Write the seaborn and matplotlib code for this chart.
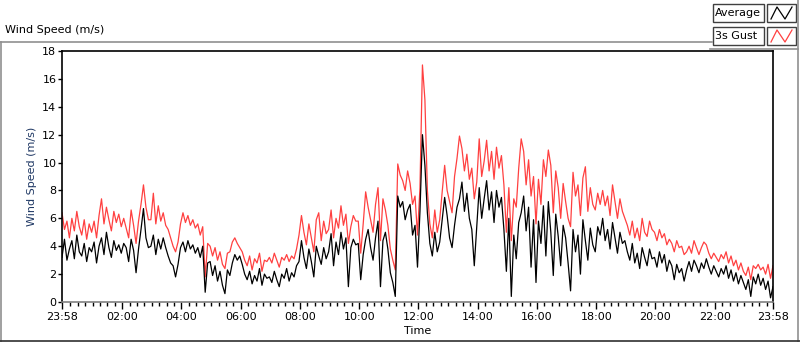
import numpy as np
import pandas as pd
import matplotlib
matplotlib.use("Agg")
import matplotlib.pyplot as plt
from matplotlib.patches import Rectangle
from matplotlib.lines import Line2D
import seaborn as sns

# Wind speed (m/s), one value every 5 minutes from 23:58 to 23:58 (one row per hour)
avg_speed = [
    3.2, 4.5, 3.0, 3.8, 4.4, 3.1, 4.8, 3.6, 3.3, 4.2, 2.9, 3.9,
    3.6, 4.3, 2.8, 4.0, 4.6, 3.4, 5.0, 3.9, 3.2, 4.4, 3.7, 4.1,
    3.5, 4.2, 3.9, 2.9, 4.5, 3.7, 2.1, 3.8, 5.2, 6.7, 4.6, 3.9,
    4.0, 4.8, 3.4, 4.5, 3.8, 4.6, 3.9, 3.3, 2.8, 2.6, 1.8, 2.7,
    3.9, 4.3, 3.6, 4.4, 3.8, 4.1, 3.5, 3.9, 3.2, 4.0, 0.7, 2.8,
    2.9, 1.9, 2.6, 1.5, 2.2, 1.2, 0.6, 2.3, 1.9, 2.8, 3.4, 3.0,
    3.3, 2.7, 2.0, 1.6, 2.2, 1.3, 1.9, 1.5, 2.4, 1.2, 2.0, 1.7,
    1.8, 1.4, 2.2, 1.6, 1.1, 2.0, 1.7, 2.4, 1.5, 2.1, 1.8, 2.6,
    2.9, 4.4, 3.2, 2.4, 3.8, 2.9, 1.8, 4.0, 3.3, 2.7, 3.9, 3.1,
    3.6, 4.9, 2.6, 4.3, 3.4, 5.0, 3.8, 4.6, 1.1, 3.9, 4.5, 4.1,
    4.2, 1.6, 3.4, 4.5, 5.2, 3.9, 3.0, 4.6, 5.8, 1.1, 4.4, 5.0,
    3.8, 2.1, 1.4, 0.4, 7.6, 6.8, 7.2, 5.9, 6.6, 7.0, 4.8, 5.5,
    2.5, 6.5, 12.0, 9.8, 6.4, 4.2, 3.3, 5.0, 3.6, 4.3, 5.9, 7.5,
    6.2, 4.6, 3.9, 5.5, 6.8, 7.4, 8.6, 6.5, 7.8, 6.0, 5.2, 2.6,
    5.4, 8.2, 6.0, 7.4, 8.7, 6.6, 7.9, 5.7, 8.0, 6.8, 7.5, 5.2,
    2.2, 6.0, 0.4, 4.8, 3.1, 5.7, 6.4, 7.6, 5.1, 6.8, 2.5, 5.9,
    1.4, 5.8, 4.2, 6.9, 3.3, 7.2, 5.0, 1.9, 6.3, 4.7, 2.6, 5.5,
    4.6, 2.8, 0.8, 5.2, 3.6, 4.8, 2.0, 5.9, 4.4, 3.0, 5.3, 4.1,
    3.6, 5.4, 4.8, 6.0, 4.4, 5.2, 3.8, 5.7, 4.6, 3.5, 5.0, 4.2,
    4.4, 3.6, 3.0, 4.2, 2.8, 3.5, 2.4, 3.9, 3.2, 2.6, 3.8, 3.1,
    3.2, 2.5, 3.6, 2.8, 3.4, 2.2, 3.0, 2.6, 1.6, 2.7, 2.1, 2.4,
    1.5, 2.3, 2.9, 2.2, 3.0, 2.6, 2.1, 2.8, 2.4, 3.1, 2.5, 2.0,
    2.6, 2.2, 1.8, 2.4, 2.0, 2.6, 1.7, 2.3, 1.5, 2.1, 1.3, 1.9,
    1.4, 0.9, 1.6, 0.4, 1.8, 1.3, 2.0, 1.2, 1.7, 0.9, 1.5, 0.3,
    1.1,
]

gust_speed = [
    6.4, 5.2, 5.8, 4.6, 6.0, 5.1, 6.5, 5.4, 4.8, 5.9, 4.5, 5.6,
    5.0, 5.8, 4.6, 6.2, 7.4, 5.6, 6.8, 5.9, 5.1, 6.5, 5.7, 6.3,
    5.4, 6.0, 5.3, 4.6, 6.6, 5.5, 4.2, 5.8, 7.0, 8.4, 6.8, 5.9,
    5.9, 7.8, 5.6, 6.9, 5.8, 6.4, 5.5, 5.2, 4.6, 4.0, 3.6, 4.3,
    5.6, 6.4, 5.7, 6.2, 5.5, 5.9, 5.3, 5.6, 4.8, 5.4, 1.8, 4.2,
    4.0, 3.3, 3.9, 3.0, 3.6, 2.7, 2.4, 3.5, 3.6, 4.3, 4.6, 4.2,
    3.9, 3.6, 3.0, 2.6, 3.3, 2.3, 3.1, 2.8, 3.5, 2.2, 3.0, 2.9,
    3.2, 2.8, 3.5, 3.0, 2.5, 3.2, 3.0, 3.4, 2.9, 3.3, 3.1, 3.8,
    4.8, 6.2, 5.0, 4.1, 5.6, 4.6, 3.6, 5.9, 6.4, 4.4, 5.8, 4.9,
    5.2, 6.6, 4.6, 6.0, 5.3, 6.9, 5.5, 6.3, 4.2, 5.4, 6.2, 5.8,
    5.8, 3.5, 5.6, 7.9, 6.8, 5.9, 5.0, 7.0, 8.2, 4.4, 7.4, 6.6,
    5.5, 3.8, 3.0, 2.3, 9.9, 9.1, 8.7, 8.0, 9.4, 8.5, 7.0, 7.6,
    4.8, 8.2, 17.0, 14.5, 8.0, 5.6, 4.6, 6.6, 5.0, 5.9, 7.9, 9.8,
    8.0, 7.2, 6.4, 9.0, 10.3, 11.9, 11.0, 9.4, 10.6, 8.8, 9.6, 7.4,
    8.6, 11.7, 9.0, 10.1, 11.6, 9.4, 10.8, 8.8, 11.1, 9.6, 10.5, 8.4,
    5.0, 8.2, 4.4, 7.4, 6.8, 9.6, 11.7, 10.8, 8.4, 10.2, 7.6, 9.0,
    5.6, 8.8, 7.0, 10.2, 9.0, 10.9, 9.8, 6.4, 9.4, 8.2, 6.0, 8.5,
    7.2, 6.0, 5.4, 9.3, 7.6, 8.4, 6.2, 8.9, 9.7, 6.5, 8.2, 7.0,
    6.6, 7.8, 7.0, 8.0, 6.9, 7.6, 6.2, 8.4, 7.2, 6.0, 7.4, 6.5,
    6.0, 5.5, 4.8, 5.8, 4.6, 5.3, 4.4, 6.0, 5.0, 4.7, 5.8, 5.2,
    5.0, 4.4, 5.2, 4.6, 4.9, 4.1, 4.5, 4.2, 3.6, 4.4, 3.9, 4.0,
    3.4, 3.6, 4.0, 3.5, 4.4, 3.9, 3.4, 3.9, 4.3, 4.1, 3.5, 3.1,
    3.5, 3.2, 2.9, 3.4, 3.1, 3.6, 2.8, 3.3, 2.6, 3.0, 2.3, 2.8,
    2.2, 1.9, 2.5, 1.6, 2.6, 2.4, 2.7, 2.3, 2.5, 2.0, 2.7, 1.7,
    2.6,
]

tick_labels = ["23:58", "02:00", "04:00", "06:00", "08:00", "10:00", "12:00",
               "14:00", "16:00", "18:00", "20:00", "22:00", "23:58"]

step = 5
minutes = np.arange(len(avg_speed)) * step
df = pd.DataFrame({"minute": minutes, "avg": avg_speed, "gust": gust_speed})

W, H = 800, 342
fig = plt.figure(figsize=(W / 100, H / 100), dpi=100)
plt.rcParams["font.family"] = ["DejaVu Sans"]


def fx(x):
    return x / W


def fy(y):
    return 1 - y / H


ax = fig.add_axes([fx(62), fy(302), (773 - 62) / W, (302 - 51) / H])
sns.lineplot(data=df, x="minute", y="gust", color="#ff4040", linewidth=0.9, ax=ax)
sns.lineplot(data=df, x="minute", y="avg", color="black", linewidth=0.9, ax=ax)

ax.set_xlim(0, 1440)
ax.set_ylim(0, 18)
ax.set_yticks(np.arange(0, 19, 2))

# tick positions in minutes after 23:58
start = 23 * 60 + 58
pos = [((int(t[:2]) * 60 + int(t[3:])) - start) % 1440 for t in tick_labels]
pos[-1] = 1440
ax.set_xticks(pos)
ax.set_xticklabels(tick_labels)
minor = [m for m in range(17, 1440, 15) if m not in pos]
ax.set_xticks(minor, minor=True)

ax.tick_params(axis="x", which="major", length=5, width=1, labelsize=8, pad=2)
ax.tick_params(axis="x", which="minor", length=3, width=1)
ax.tick_params(axis="y", length=3, width=1, labelsize=8, pad=1)
ax.set_xlabel("Time", fontsize=8, labelpad=3)
ax.set_ylabel("Wind Speed (m/s)", fontsize=8, color="#1f3864", labelpad=4)

for s in ax.spines.values():
    s.set_color("black")
    s.set_linewidth(1.2)
ax.spines["bottom"].set_color("#808080")
ax.grid(False)

# chart frame and title
fig.add_artist(Line2D([fx(0), fx(712)], [fy(42), fy(42)], color="#909090", lw=1.2))
fig.add_artist(Line2D([fx(0.5), fx(0.5)], [fy(42), fy(342)], color="#909090", lw=1.2))
fig.add_artist(Line2D([fx(798), fx(798)], [fy(0), fy(342)], color="#909090", lw=1.2))
fig.add_artist(Line2D([fx(0), fx(800)], [fy(341), fy(341)], color="#303030", lw=1.2))
fig.add_artist(Line2D([fx(710), fx(798)], [fy(48.5), fy(48.5)], color="#909090", lw=1.2))
fig.text(fx(5), fy(30), "Wind Speed (m/s)", fontsize=8, va="center", ha="left")

# legend boxes
for row, (name, col) in enumerate([("Average", "black"), ("3s Gust", "#ff4040")]):
    y0 = 4 + row * 23
    fig.add_artist(Rectangle((fx(713), fy(y0 + 18)), 51 / W, 18 / H,
                             transform=fig.transFigure, facecolor="white",
                             edgecolor="#404040", lw=1))
    fig.add_artist(Rectangle((fx(767), fy(y0 + 18)), 29 / W, 18 / H,
                             transform=fig.transFigure, facecolor="white",
                             edgecolor="#404040", lw=1))
    fig.text(fx(715), fy(y0 + 9), name, fontsize=8, va="center", ha="left")
    zx = [771, 777, 785, 792]
    zy = [y0 + 15, y0 + 3, y0 + 15, y0 + 3]
    fig.add_artist(Line2D([fx(v) for v in zx], [fy(v) for v in zy], color=col, lw=0.9))

fig.savefig("out.png", dpi=100)
